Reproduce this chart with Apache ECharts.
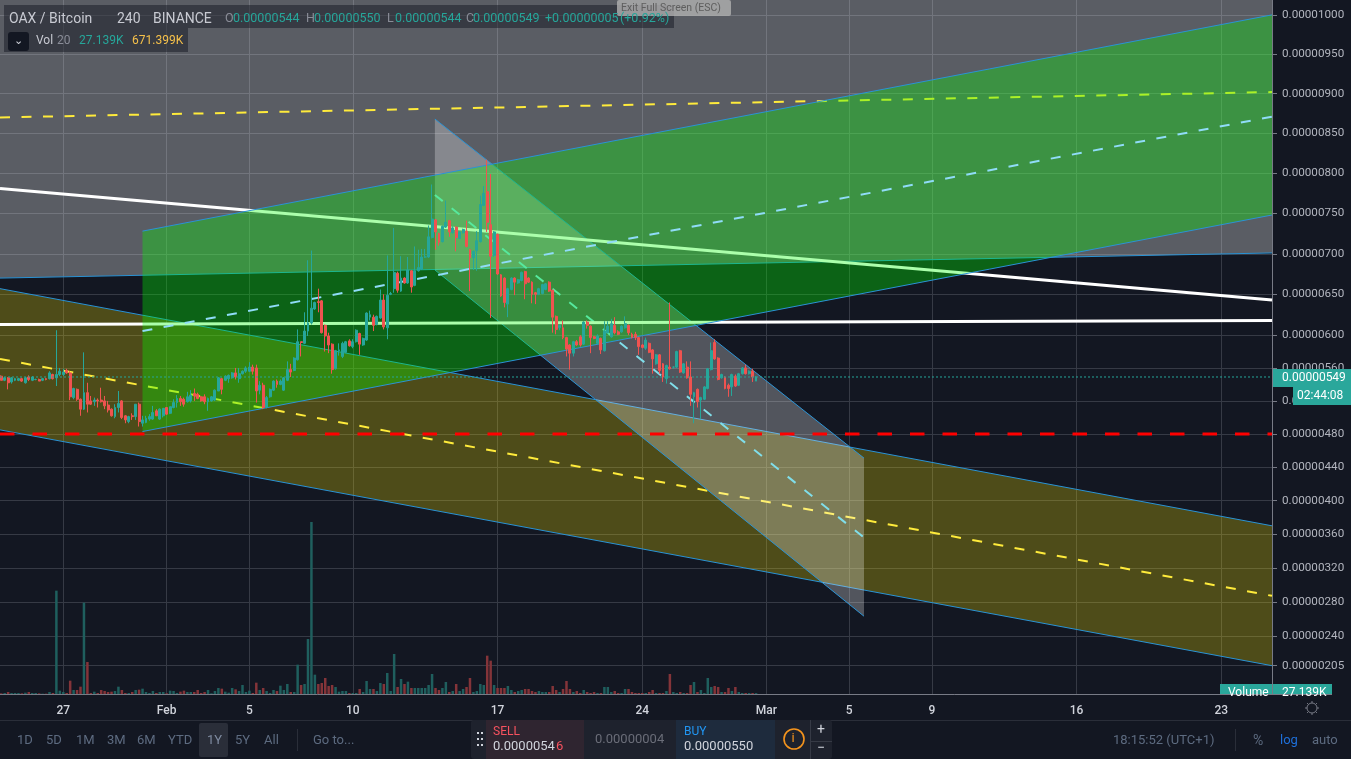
<!DOCTYPE html>
<html><head><meta charset="utf-8">
<script src="https://cdn.jsdelivr.net/npm/echarts@6/dist/echarts.min.js"></script>
<style>html,body{margin:0;padding:0;background:#fff;overflow:hidden}#c{width:1351px;height:759px}</style>
</head><body><div id="c"></div>
<script>
// prices in units of 0.00000001 BTC, 4h bars
const opens=[550,545,548,543,545,545,547,542,549,545,546,546,545,547,547,552,548,552,552,557,554,524,534,522,510,530,520,519,521,521,520,515,510,501,512,520,502,495,502,501,516,493,494,498,498,508,498,502,512,505,512,518,523,522,519,520,529,528,525,525,519,520,521,532,547,545,547,548,554,547,553,556,556,561,560,533,539,512,525,533,544,540,533,
545,558,557,570,592,590,605,615,632,641,642,612,599,589,559,581,574,579,593,586,592,602,588,594,622,622,613,621,643,609,650,657,676,654,670,664,679,661,679,681,696,696,720,742,725,715,733,741,726,733,719,726,728,705,695,704,715,760,777,736,698,724,674,670,638,656,670,664,667,678,670,665,652,650,651,656,665,655,623,
609,609,597,588,578,592,598,589,616,611,598,590,596,581,603,598,612,604,604,609,612,601,601,597,588,584,590,582,565,576,565,547,561,561,561,581,554,561,549,525,534,521,522,535,558,591,572,548,549,539,537,550,539,553,560,553,556,544];
const closes=[545,548,542,548,547,547,544,548,546,549,546,544,547,546,554,547,552,556,555,554,525,535,522,510,530,516,516,521,520,519,514,509,502,512,517,500,497,501,501,516,495,497,499,501,506,502,510,511,504,513,518,523,519,516,525,527,526,523,520,519,523,525,533,548,534,550,551,554,549,553,556,560,561,556,532,539,512,524,534,544,540,544,548,
558,555,572,592,591,605,615,633,640,640,603,599,588,558,581,582,590,592,587,592,606,589,596,627,625,612,623,643,610,649,651,677,655,670,664,680,659,679,683,696,696,721,743,727,714,734,739,727,732,720,727,730,709,695,703,716,761,775,739,697,727,675,648,640,657,670,665,668,677,663,665,650,650,657,662,663,654,622,607,
612,597,583,578,592,588,588,616,612,597,596,599,582,605,611,614,603,601,611,614,603,597,597,586,585,594,579,571,576,557,549,563,559,561,580,555,565,548,528,530,519,524,537,559,581,571,546,552,535,535,552,538,553,560,553,556,549,549];
const lows=[545,544,534,541,544,544,543,541,544,544,545,544,544,545,546,546,538,550,550,553,521,522,520,502,509,506,515,514,512,518,510,506,501,499,506,498,493,493,497,497,489,489,493,496,497,502,497,500,503,504,511,512,514,513,518,518,520,522,519,516,508,519,520,532,528,544,542,547,546,542,552,554,555,552,518,528,510,511,524,532,536,539,532,
544,549,556,569,574,589,599,613,631,628,602,580,578,553,558,575,572,578,586,584,591,576,587,593,618,605,612,620,607,595,649,652,652,653,663,663,652,660,678,680,695,695,719,705,710,714,732,721,725,703,718,725,708,654,680,679,714,759,727,621,696,674,647,634,622,655,649,663,666,644,664,639,638,649,650,655,653,603,601,
606,595,574,558,574,587,586,588,608,578,595,588,577,580,602,597,601,600,603,608,600,596,594,576,584,582,578,553,564,553,543,541,558,559,560,554,553,547,514,493,512,498,521,534,557,570,545,547,534,525,526,537,538,552,552,552,543,544];
const highs=[551,549,549,549,548,548,548,549,551,550,547,547,548,548,556,553,606,560,559,559,556,536,535,523,579,542,526,524,523,536,526,520,511,516,532,521,503,502,505,516,518,502,502,504,514,510,511,511,512,513,522,527,526,524,531,533,535,530,526,528,524,526,534,549,548,551,552,555,560,560,557,562,567,564,564,544,542,526,535,545,546,546,549,
568,565,573,607,592,628,692,704,641,657,643,613,603,590,582,590,592,593,595,595,607,603,597,628,630,625,624,656,650,698,653,732,678,697,671,696,680,709,705,706,706,735,786,743,726,735,766,742,734,734,728,731,741,706,704,728,772,784,817,799,728,725,675,671,658,671,671,669,678,679,671,666,653,658,663,664,666,656,624,
613,618,598,589,593,594,600,617,618,612,599,601,597,617,617,620,622,606,612,623,613,603,604,598,589,597,591,583,577,577,566,564,640,562,581,582,566,568,568,531,535,525,538,560,591,595,573,553,550,541,553,552,554,561,564,557,559,550];
const volumes=[20,30,60,30,30,30,20,40,60,30,30,20,10,10,60,30,3100,100,60,30,400,120,120,220,2740,960,30,70,30,120,90,60,70,90,220,120,30,30,60,120,130,160,60,30,90,30,60,60,20,100,90,30,70,100,60,60,60,120,30,60,120,20,90,180,160,70,40,180,140,90,270,60,100,30,340,120,180,90,30,120,90,250,120,300,60,60,880,270,300,1650,5160,580,300,330,480,240,270,210,70,90,90,30,30,30,150,60,390,150,150,90,330,300,630,90,1200,210,
450,300,370,180,180,180,180,180,270,600,180,120,180,360,60,90,300,90,150,210,480,60,90,300,270,1150,1000,270,180,180,180,240,120,60,90,120,150,150,90,60,90,60,60,60,240,120,60,150,390,150,60,90,30,120,60,30,60,30,30,210,210,60,90,30,30,150,150,60,30,30,30,30,60,120,30,30,30,90,600,60,30,60,30,30,270,360,60,120,30,480,210,240,210,60,60,180,90,210,60,30,30,30,30,27];
const priceTicks=[1000,950,900,850,800,750,700,650,600,560,520,480,440,400,360,320,280,240,205];
const dayTicks=[0,5,9,14,21,28,34,38,42,49,56];
const dayLabels=['27','Feb','5','10','17','24','Mar','5','9','16','23'];
const xLeft=-3.06, xRight=58.45, priceTop=1019, priceBottom=172, barsBeforeJan27=18;
const lastPrice=549, supportPrice=480;
// drawings: [day, price] end points
const grayUpper=[[xLeft,1073],[xRight,1108]], grayLower=[[xLeft,670],[xRight,701]], grayMid=[[xLeft,870],[xRight,902]];
const oliveUpper=[[xLeft,657],[xRight,370]], oliveLower=[[xLeft,485],[xRight,205]], oliveMid=[[xLeft,571],[xRight,287]];
const greenUpper=[[3.83,728],[xRight,1000]], greenLower=[[3.83,483],[xRight,748]], greenMid=[[3.83,605],[xRight,871]];
const smallUpper=[[17.97,868],[38.72,451]], smallLower=[[17.97,680],[38.72,263]], smallMid=[[17.97,773],[38.72,356]];
const whiteFalling=[[xLeft,781],[xRight,643]], whiteFlat=[[xLeft,613],[xRight,618]];

const OFFSET=8400;
const warp=v=>Math.log(v+OFFSET);
const unwarp=w=>Math.round(Math.exp(w)-OFFSET);
const fmt=v=>(v*1e-8).toFixed(8);
const dayOf=i=>(i-barsBeforeJan27)/6;
const wp=a=>a.map(p=>[p[0],warp(p[1])]);

const chart=echarts.init(document.getElementById('c'));
function fill(upper,lower,color,z){
  const pts=wp([upper[0],upper[1],lower[1],lower[0]]);
  return {type:'custom',silent:true,clip:true,z,data:[0],
    renderItem:(p,api)=>({type:'polygon',shape:{points:pts.map(q=>api.coord(q))},style:{fill:color,stroke:null}})};
}
function line(pts,color,width,type,z){
  return {type:'line',silent:true,z,showSymbol:false,symbol:'none',clip:true,data:wp(pts),lineStyle:{color,width,type}};
}
const BLUE='#2a93d5', DASH=[10,11.5];
const series=[
  fill(grayUpper,grayLower,'rgba(255,255,255,0.3)',1),
  line(grayLower,BLUE,1,'solid',1), line(grayUpper,BLUE,1,'solid',1), line(grayMid,'#ffeb3b',2,DASH,1),
  fill(oliveUpper,oliveLower,'rgba(255,235,0,0.25)',1),
  line(oliveUpper,BLUE,1,'solid',1), line(oliveLower,BLUE,1,'solid',1), line(oliveMid,'#ffeb3b',2,DASH,1),
  fill(smallUpper,smallLower,'rgba(255,255,255,0.27)',2),
  line(smallUpper,BLUE,1,'solid',2), line(smallLower,BLUE,1,'solid',2), line(smallMid,'#80deea',2,DASH,2),
  line(whiteFalling,'#ffffff',3,'solid',2), line(whiteFlat,'#ffffff',3,'solid',2),
  fill(greenUpper,greenLower,'rgba(0,255,0,0.33)',3),
  line(greenUpper,BLUE,1,'solid',3), line(greenLower,BLUE,1,'solid',3), line(greenMid,'#90dcf8',2,DASH,3),
  line([[xLeft,supportPrice],[xRight,supportPrice]],'#ff0000',3,[14.5,18],4),
  {type:'bar',silent:true,z:4,xAxisIndex:0,yAxisIndex:1,barWidth:2.5,
    data:volumes.map((v,i)=>({value:[dayOf(i),v],itemStyle:{color:closes[i]>=opens[i]?'#1f5f5e':'#843439'}}))},
  {type:'candlestick',silent:true,z:5,barWidth:2.4,encode:{x:0,y:[1,2,3,4]},
    itemStyle:{color:'#26a69a',color0:'#ef5350',borderColor:'#26a69a',borderColor0:'#ef5350',borderColorDoji:'#26a69a',borderWidth:1},
    data:opens.map((o,i)=>[dayOf(i),warp(o),warp(closes[i]),warp(lows[i]),warp(highs[i])])},
  line([[xLeft,lastPrice],[xRight,lastPrice]],'#26a69a',1,[2,2],6)
];
const F='Roboto, sans-serif';
const txt=(x,y,text,fill,size,extra)=>Object.assign({type:'text',z:100,silent:true,style:Object.assign({x,y:y+1,text,fill,font:(size||12)+'px '+F,textVerticalAlign:'middle'},extra||{})});
const rect=(x,y,w,h,fill,r)=>({type:'rect',z:99,silent:true,shape:{x,y,width:w,height:h,r:r||0},style:{fill}});
const gl=[
  rect(0,695,1351,1,'#131722'),
  // legend
  rect(4,5,670,23,'rgba(19,23,34,0.5)'), rect(4,28,184,24,'rgba(19,23,34,0.5)'),
  rect(617,0,114,16,'rgba(175,175,175,0.82)',2), txt(621,7,'Exit Full Screen (ESC)','#5e5e5e',10.5),
  txt(9,18,'OAX / Bitcoin','#c8cad2',14), txt(117,18,'240','#c8cad2',14), txt(153,18,'BINANCE','#c8cad2',14),
  txt(225,18,'O','#8a8d98',12.5), txt(233,18,'0.00000544','#26a69a',12.5),
  txt(306,18,'H','#8a8d98',12.5), txt(314,18,'0.00000550','#26a69a',12.5),
  txt(387,18,'L','#8a8d98',12.5), txt(395,18,'0.00000544','#26a69a',12.5),
  txt(466,18,'C','#8a8d98',12.5), txt(473,18,'0.00000549','#26a69a',12.5),
  txt(545,18,'+0.00000005','#26a69a',12.5), txt(620,18,'(+0.92%)','#26a69a',12.5),
  rect(8,32,21,19,'#131722',3), txt(14,40,'⌄','#d1d4dc',11),
  txt(36,40,'Vol','#c8cad2',12), txt(57,40,'20','#8a8d98',12),
  txt(79,40,'27.139K','#26a69a',12), txt(132,40,'671.399K','#f5c04a',12),
  // price tags
  rect(1273,369,78,18,'#2aa79b'), txt(1282,377,fmt(lastPrice),'#ffffff',12),
  rect(1293,387,58,18,'#2aa79b'), txt(1297,395,'02:44:08','#ffffff',12),
  // volume tags, cut by the time axis
  rect(1220,684,52,10,'#2aa79b'), rect(1273,684,59,10,'#2aa79b'),
  txt(1228,692,'Volume','#ffffff',12), txt(1282,692,'27.139K','#ffffff',12),
  rect(1220,695,112,7,'#131722'), rect(1220,694,112,1,'#787b86'),
  // settings icon
  {type:'circle',z:100,silent:true,shape:{cx:1312,cy:708,r:5},style:{fill:'none',stroke:'#787b86',lineWidth:1}},
  // bottom bar
  rect(0,720,1351,1,'#2a2e39'),
  rect(199,723,29,34,'#2a2e39',2),
  txt(17,740,'1D','#5d6b80',13), txt(46,740,'5D','#5d6b80',13), txt(76,740,'1M','#5d6b80',13), txt(107,740,'3M','#5d6b80',13), txt(137,740,'6M','#5d6b80',13), txt(168,740,'YTD','#5d6b80',13),
  txt(207,740,'1Y','#7f8ba0',13), txt(235,740,'5Y','#5d6b80',13), txt(264,740,'All','#5d6b80',13),
  rect(297,729,1,22,'#2a2e39'), txt(313,740,'Go to...','#5d6b80',13),
  rect(471,720,361,39,'#1e222d',3),
  rect(486,720,98,39,'#2f2530'), rect(676,720,99,39,'#1e2b3d'), rect(811,741,21,1,'#363a45'), rect(810,720,1,39,'#363a45'),
  txt(493,731,'SELL','#f7525f',12), txt(493,746,'0.0000054','#d1d4dc',13), txt(556,746,'6','#f7525f',13),
  txt(595,739,'0.00000004','#6a6d78',13),
  txt(684,731,'BUY','#2196f3',12), txt(684,746,'0.00000550','#d1d4dc',13),
  {type:'circle',z:100,silent:true,shape:{cx:794,cy:739,r:10},style:{fill:'none',stroke:'#f5941d',lineWidth:1.6}},
  txt(791.5,738,'i','#f5941d',13),
  txt(817,729,'+','#d1d4dc',14), txt(817,747,'−','#d1d4dc',14),
  txt(1113,740,'18:15:52 (UTC+1)','#5d6b80',13), rect(1235,729,1,22,'#2a2e39'),
  txt(1253,740,'%','#5d6b80',14), txt(1280,740,'log','#1e6fd9',13), txt(1312,740,'auto','#5d6b80',13)
];
// the six grip dots and the ticks of the settings icon
[478,482].forEach(x=>[733,739,745].forEach(y=>gl.push(rect(x-1,y-1,2,2,'#d1d4dc'))));
for(let a=0;a<8;a++){const c=Math.cos(a*Math.PI/4),s=Math.sin(a*Math.PI/4);
  gl.push({type:'line',z:100,silent:true,shape:{x1:1312+5*c,y1:708+5*s,x2:1312+7*c,y2:708+7*s},style:{stroke:'#787b86',lineWidth:1}});}

chart.setOption({
  animation:false,backgroundColor:'#131722',
  grid:{left:0,top:0,width:1272,height:694,containLabel:false},
  xAxis:{type:'value',min:xLeft,max:xRight,
    axisLine:{show:true,onZero:false,lineStyle:{color:'#787b86'}},axisTick:{show:false,customValues:dayTicks},
    splitLine:{show:true,lineStyle:{color:'#363a45',width:1}},
    axisLabel:{customValues:dayTicks,color:'#d1d4dc',fontFamily:F,fontSize:12,fontWeight:500,margin:11,formatter:v=>dayLabels[dayTicks.indexOf(Math.round(v))]}},
  yAxis:[{type:'value',position:'right',min:warp(priceBottom),max:warp(priceTop),scale:true,
    axisLine:{show:true,onZero:false,lineStyle:{color:'#787b86'}},
    axisTick:{show:true,length:5,customValues:priceTicks.map(warp),lineStyle:{color:'#787b86'}},
    splitLine:{show:true,lineStyle:{color:'#363a45',width:1}},
    axisLabel:{customValues:priceTicks.map(warp),color:'#b2b5be',fontFamily:F,fontSize:11.7,margin:10,padding:[3,0,0,0],formatter:v=>fmt(unwarp(v))}},
   {type:'value',min:0,max:20820,show:false,splitLine:{show:false}}],
  series,graphic:{elements:gl}
});
</script></body></html>
